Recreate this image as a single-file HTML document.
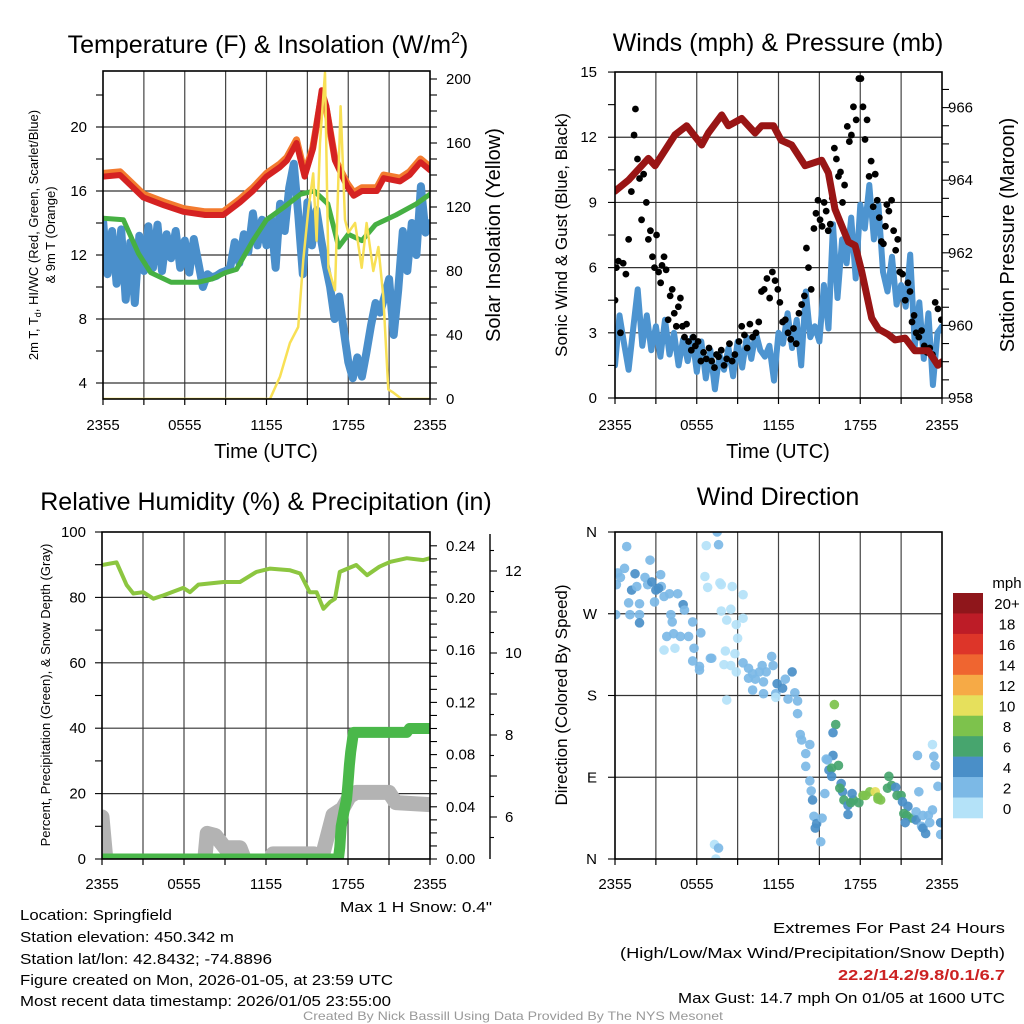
<!DOCTYPE html>
<html><head><meta charset="utf-8">
<style>
html,body{margin:0;padding:0;background:#fff;}
svg{display:block;font-family:"Liberation Sans",Arial,sans-serif;}
</style></head>
<body>
<svg id="fig" width="1024" height="1024" viewBox="0 0 1024 1024" xmlns="http://www.w3.org/2000/svg">
<defs>
<clipPath id="c1"><rect x="103" y="71" width="327" height="328"/></clipPath>
<clipPath id="c2"><rect x="615" y="72" width="327" height="326"/></clipPath>
<clipPath id="c3"><rect x="102" y="532" width="328" height="327"/></clipPath>
<clipPath id="c4"><rect x="615" y="532" width="327" height="327"/></clipPath>
</defs>
<g id="static" font-size="14">
<text x="268" y="53" font-size="25" text-anchor="middle">Temperature (F) &amp; Insolation (W/m<tspan dy="-10" font-size="16">2</tspan><tspan dy="10">)</tspan></text>
<text x="778" y="51" font-size="25" text-anchor="middle">Winds (mph) &amp; Pressure (mb)</text>
<text x="266" y="510" font-size="25" text-anchor="middle">Relative Humidity (%) &amp; Precipitation (in)</text>
<text x="778" y="505" font-size="25" text-anchor="middle">Wind Direction</text>

<text x="266" y="458" font-size="20" text-anchor="middle">Time (UTC)</text>
<text x="778" y="458" font-size="20" text-anchor="middle">Time (UTC)</text>

<g transform="translate(42,235) rotate(-90)" font-size="13" text-anchor="middle">
<text x="0" y="-4">2m T, T<tspan font-size="9" dy="3">d</tspan><tspan dy="-3">, HI/WC (Red, Green, Scarlet/Blue)</tspan></text>
<text x="0" y="13">&amp; 9m T (Orange)</text>
</g>
<text transform="translate(500,235) rotate(-90)" font-size="20" text-anchor="middle">Solar Insolation (Yellow)</text>
<text transform="translate(567,235) rotate(-90)" font-size="17" text-anchor="middle">Sonic Wind &amp; Gust (Blue, Black)</text>
<text transform="translate(1014,235) rotate(-90)" font-size="20" text-anchor="middle">Station Pressure (Maroon)</text>
<text transform="translate(50,695) rotate(-90)" font-size="13" text-anchor="middle">Percent, Precipitation (Green), &amp; Snow Depth (Gray)</text>
<text transform="translate(567,695) rotate(-90)" font-size="17" text-anchor="middle">Direction (Colored By Speed)</text>

<text x="492" y="912" font-size="15" text-anchor="end" textLength="152" lengthAdjust="spacingAndGlyphs">Max 1 H Snow: 0.4"</text>
<g font-size="15">
<text x="20" y="920" textLength="152" lengthAdjust="spacingAndGlyphs">Location: Springfield</text>
<text x="20" y="942" textLength="214" lengthAdjust="spacingAndGlyphs">Station elevation: 450.342 m</text>
<text x="20" y="964" textLength="252" lengthAdjust="spacingAndGlyphs">Station lat/lon: 42.8432; -74.8896</text>
<text x="20" y="985" textLength="373" lengthAdjust="spacingAndGlyphs">Figure created on Mon, 2026-01-05, at 23:59 UTC</text>
<text x="20" y="1006" textLength="371" lengthAdjust="spacingAndGlyphs">Most recent data timestamp: 2026/01/05 23:55:00</text>
</g>
<g font-size="15" text-anchor="end">
<text x="1005" y="933" textLength="232" lengthAdjust="spacingAndGlyphs">Extremes For Past 24 Hours</text>
<text x="1005" y="958" textLength="385" lengthAdjust="spacingAndGlyphs">(High/Low/Max Wind/Precipitation/Snow Depth)</text>
<text x="1005" y="980" fill="#cc2222" font-weight="bold" textLength="167" lengthAdjust="spacingAndGlyphs">22.2/14.2/9.8/0.1/6.7</text>
<text x="1005" y="1003" textLength="327" lengthAdjust="spacingAndGlyphs">Max Gust: 14.7 mph On 01/05 at 1600 UTC</text>
</g>
<text x="513" y="1020" font-size="12" fill="#999" text-anchor="middle" textLength="420" lengthAdjust="spacingAndGlyphs">Created By Nick Bassill Using Data Provided By The NYS Mesonet</text>
</g>
<g id="dyn"></g>
</svg>
<script>
// ---------- Panel 1 data ----------
const tHours = [0,1.25,2.96,4.5,5.9,7.5,8.83,10.06,11,12,13,13.5,14.2,14.8,15.4,16.05,16.4,17.03,17.9,18.4,19,20.1,20.6,21.8,22.5,23.3,24];
const tempRed = [16.9,17.0,15.6,15.1,14.7,14.5,14.5,15.3,16.0,16.9,17.5,17.9,19.0,16.9,18.6,22.3,21.3,17.9,16.3,15.7,16.0,16.0,16.8,16.6,17.0,17.8,17.3];
const tempOrange = [17.1,17.2,15.8,15.3,14.9,14.7,14.7,15.5,16.2,17.1,17.7,18.1,19.2,17.1,18.7,22.0,21.1,18.0,16.5,15.9,16.2,16.2,17.0,16.8,17.2,18.0,17.5];
const tdHours = [0,1.5,2.6,3.5,5,7,8,9,9.8,11,12,13.3,14.5,15.5,16.5,17.3,18,19,20,21.5,23,24];
const tdGreen = [14.3,14.2,12.1,10.9,10.3,10.3,10.5,10.9,11.1,12.9,14.2,15.0,15.8,16.0,15.2,12.5,13.3,12.9,13.9,14.5,15.2,15.8];
const wcBlue = [14.2,10.8,13.5, 10.2,13.6,9.2, 12.8,9.0,13.2, 11.0,13.8,11.2, 13.9,11.0,13.3, 11.8,13.5,11.2, 12.9,10.9,13.0, 11.5,10.0,10.8, 10.6,10.7,10.9, 11.0,11.2,12.8, 11.5,13.3,12.2, 14.6,12.6,14.2, 12.6,14.3,11.2, 15.2,13.5,16.2, 17.7,14.5,10.8, 15.3,12.6,14.8, 13.0,11.4,10.0, 8.0,9.4,7.3, 5.3,4.3,5.6, 4.4,5.9,7.6, 9.0,8.4,9.4, 10.5,7.0,9.8, 13.5,11.0,14.0, 12.0,16.3,13.4, 14.0];
const solarHours = [0,12.26,12.99,13.72,14.33,14.70,15.07,15.43,15.68,15.93,16.29,16.54,17.03,17.44,17.76,18.0,18.5,18.99,19.35,19.84,20.21,20.57,20.94,21.31,21.92,24];
const solar = [0,0,14,35,45,87,118,141,99,160,204,82,68,183,112,104,110,82,110,80,95,64,6,4,0,0];
const p1LeftTicks = [4,8,12,16,20];
const p1RightTicks = [0,40,80,120,160,200];
const timeLabels = ["2355","0555","1155","1755","2355"];

// ---------- Panel 2 data ----------
const presHours = [0,0.98,2.45,2.94,4.4,5.26,6.36,6.85,7.83,8.32,9.3,10.28,10.77,11.63,12.2,12.97,13.95,15.17,15.66,16.15,17.13,17.62,18.1,18.84,19.33,20.06,20.55,21.3,22.0,23.0,23.7,24];
const pres = [963.7,964.0,964.6,964.4,965.25,965.5,964.97,965.3,965.8,965.5,965.7,965.3,965.5,965.5,965.1,964.97,964.4,964.55,964.2,963.2,962.3,962.2,961.5,960.2,959.9,959.75,959.6,959.65,959.3,959.3,958.9,959.0];
const windBlue = [1.5,3.8,2.5, 1.3,3.2,5.0, 2.4,3.8,2.2, 3.3,1.9,3.6, 2.0,3.0,1.5, 2.7,1.7,2.8, 1.2,2.6,0.9, 2.2,0.4,2.0, 1.3,2.3,1.0, 2.6,1.4,2.8, 1.8,3.0,2.2, 1.9,2.4,0.8, 3.0,2.5,3.9, 2.3,3.6,1.5, 4.9,2.8,3.3, 2.6,5.2,3.2, 8.0,4.6,7.3, 6.2,8.3,5.5, 8.9,7.8,9.8, 7.3,8.9,5.8, 4.9,6.5,4.3, 5.2,4.2,6.6, 2.4,4.4,1.8, 3.9,0.6,3.0, 3.3];
const gustHours = [0,0.1,0.25,0.4, 0.6,0.8,1.0,1.2,1.4, 1.5,1.65,1.8,1.95,2.1,2.3,2.45, 2.6,2.75,2.9,3.05,3.2,3.35,3.45, 3.6,3.75,3.9,4.05,4.2,4.35,4.5,4.65,4.8,4.95, 5.1,5.25,5.4,5.6,5.75,5.9, 6.1,6.3,6.5,6.7,6.9,7.1,7.3,7.45, 7.6,7.8,8.0,8.2,8.4,8.6,8.8, 9.1,9.3,9.5,9.7,9.9,10.1,10.35, 10.55,10.75,10.95,11.15,11.35,11.55,11.75,11.95, 12.1,12.3,12.5,12.7,12.9,13.1,13.3,13.5,13.7,13.9, 14.05,14.2,14.4,14.6,14.75,14.9, 15.05,15.2,15.35,15.5,15.65,15.8,15.95, 16.1,16.25,16.4,16.55,16.7,16.85, 17.05,17.2,17.35,17.5,17.7,17.9, 18.05,18.2,18.35,18.5,18.65,18.8,18.95, 19.1,19.25,19.4,19.55,19.7,19.85,19.95, 20.1,20.3,20.45,20.6,20.75,20.9, 21.1,21.3,21.5,21.65,21.8,21.95, 22.1,22.3,22.5,22.7,22.9, 23.1,23.3,23.5,23.7,23.95];
const gustMph = [4.5,6.0,6.3,3.0, 6.2,5.7,7.3,9.5,12.1, 13.3,11.0,10.1,8.2,10.3,9.0,7.3, 7.7,6.5,6.0,7.5,5.8,5.3,6.1, 6.5,5.9,3.6,4.7,5.0,3.9,3.3,4.2,4.6,3.3, 2.8,3.4,2.6,2.2,2.8,2.4, 2.6,1.7,2.1,1.8,2.3,1.7,1.4,2.0, 1.9,2.2,1.5,1.8,2.5,1.7,2.0, 2.6,3.3,2.9,2.3,3.4,2.8,3.0, 3.5,4.9,5.0,5.5,4.6,5.8,5.4,5.0, 4.4,3.5,3.6,3.0,2.7,3.2,2.5,3.9,4.3,4.7, 6.9,6.0,5.0,7.8,8.5,9.1, 8.2,7.9,9.0,8.6,7.7,8.0,9.2, 11.5,11.0,10.2,10.4,9.0,9.8, 12.5,11.8,12.1,13.4,12.8,14.7, 14.7,13.4,11.9,12.8,10.2,10.9,8.8, 10.3,9.1,8.3,7.2,7.1,7.9,8.9, 8.6,9.1,7.7,6.8,7.3,5.8, 5.7,4.5,5.3,4.9,3.5,3.8, 3.0,2.8,3.1,2.4,2.1, 2.3,2.0,4.4,4.1,3.6];
const p2LeftTicks = [0,3,6,9,12,15];
const p2RightTicks = [958,960,962,964,966];

// ---------- Panel 3 data ----------
const rhHours = [0,1.07,1.8,2.29,3.02,3.76,4.49,5.95,6.44,7.05,8.88,10.1,11.3,12.3,13.76,14.5,15.2,15.7,16.2,16.68,17.05,17.4,18.6,19.4,20.3,21.1,22.3,23.5,24];
const rh = [89.9,90.7,83.8,81.2,81.6,79.6,80.6,82.9,81.6,83.9,84.7,84.7,87.8,88.8,88.3,87.3,81.6,81.6,76.5,78.6,79.6,87.8,89.9,86.8,89.4,90.9,92.0,91.4,92.0];
const precipHours = [0,17.3,17.4,17.5,17.7,17.9,18.0,18.1,18.2,18.4,22.3,22.5,24];
const precip = [0,0,0.009,0.025,0.036,0.046,0.058,0.072,0.082,0.097,0.097,0.100,0.100];
const snowHours = [0,0.3,7.5,7.7,8.3,9.0,10.1,10.5,12.3,12.5,15.5,16.0,16.9,17.6,18.1,18.6,21.0,21.5,24];
const snow = [6.0,4.9,4.9,5.6,5.55,5.25,5.25,4.9,4.9,5.1,5.1,4.9,6.05,6.2,6.5,6.6,6.6,6.35,6.3];
const p3LeftTicks = [0,20,40,60,80,100];
const p3PrecipTicks = ["0.00","0.04","0.08","0.12","0.16","0.20","0.24"];
const p3SnowTicks = [6,8,10,12];

// ---------- Panel 4 data ----------
const dirHours = [0.86,0.2,1.47,1.22,0.05,1.1,1.8,1.8,1.0,1.8,0.1,0.7,2.57,2.2,2.4,3.4,3.0,3.6,4.0,4.6,3.35,2.9,5.0,4.1,4.2,4.3,4.8,5.4,3.8,3.6,4.4,5.1,5.7,5.8,6.3,5.7,6.2,6.2,7.0,6.6,6.8,6.7,7.5,7.6,7.7,7.8,8.6,9.4,7.8,8.5,8.2,8.9,9.4,9.0,8.1,8.8,7.1,8.0,8.5,8.9,8.2,9.4,9.8,10.1,10.6,10.8,11.5,11.1,11.6,9.8,10.3,10.9,10.1,10.9,11.8,11.9,12.3,12.5,13.0,13.2,12.7,11.8,13.4,13.4,13.6,13.7,14.0,14.3,14.0,14.3,14.4,14.5,14.6,14.7,14.8,15.1,15.2,15.4,16.1,16.2,16.0,16.0,15.6,15.7,15.9,16.4,15.9,16.6,16.7,16.5,16.8,17.1,17.1,17.3,17.5,17.4,17.9,18.2,18.4,18.7,19.1,19.3,19.5,19.3,20.0,20.3,20.1,20.6,20.7,21.0,21.1,21.5,21.2,21.4,21.8,21.3,22.1,22.1,22.6,23.0,23.3,22.5,22.6,22.8,23.1,23.9,23.9,22.2,23.4,23.5,23.3,23.7,22.3,15.5,7.3,7.6,7.4,0.4,1.6,2.7,3.2];
const dirDeg = [344,315,314,296,269,269,269,260,282,281,302,320,329,310,302,300,296,289,292,292,313,283,280,269,261,248,245,245,245,230,232,274,261,232,249,218,212,208,221,311,299,345,360,346,304,302,300,291,273,275,263,258,265,243,229,226,221,214,213,206,175,216,210,204,206,213,223,206,213,199,198,195,186,182,182,193,188,198,206,183,176,178,174,160,137,131,116,126,102,86,75,65,47,34,39,19,45,72,170,148,139,114,109,98,100,103,91,83,74,78,65,59,49,62,65,72,62,70,70,74,74,68,65,66,78,81,91,79,70,70,63,58,50,48,45,40,52,43,48,48,54,36,34,28,40,40,27,114,113,103,126,80,74,110,16,12,0,310,300,305,298];
const dirSpeed = [3,3,5,5,3,3,3,5,3,3,3,3,3,3,3,3,5,3,3,3,3,3,5,3,3,3,3,3,3,1,1,3,3,3,3,3,3,3,3,1,1,1,3,3,1,1,1,1,1,1,1,1,1,1,1,1,3,1,1,1,1,3,3,3,3,3,3,3,3,3,3,3,3,3,3,5,5,3,5,3,3,1,3,3,3,3,3,3,3,3,3,5,3,5,5,3,3,3,9,7,5,5,3,5,7,7,5,5,5,7,7,5,5,7,7,5,7,9,9,9,11,9,9,9,7,7,7,5,7,7,5,5,7,7,7,5,3,5,3,3,3,3,5,5,3,5,3,3,3,3,1,3,3,3,1,3,1,3,3,5,5];
const p4DirTicks = [[0,"N"],[90,"E"],[180,"S"],[270,"W"],[360,"N"]];
const speedBins = ["0","2","4","6","8","10","12","14","16","18","20+"];
const binColors = ["#b4e2f8","#7cb9e6","#4a8fc8","#47a56e","#7dc24c","#e6e05c","#f6aa46","#ef6530","#dd3529","#bd1c27","#8f161b"];

// ---------- helpers ----------
const NS = "http://www.w3.org/2000/svg";
const dyn = document.getElementById("dyn");
function mk(tag, attrs, parent) {
  const e = document.createElementNS(NS, tag);
  for (const k in attrs) e.setAttribute(k, attrs[k]);
  (parent || dyn).appendChild(e);
  return e;
}
function pathD(xs, ys, fx, fy) {
  return xs.map((h, i) => (i ? "L" : "M") + fx(h).toFixed(1) + "," + fy(ys[i]).toFixed(1)).join("");
}
function evenHours(n) { return Array.from({length: n}, (_, i) => i * 24 / (n - 1)); }

const x1 = h => 103 + h * 327 / 24;
const yT = v => 383 - (v - 4) * 16;
const yS = v => 399 - v * 1.6;
const x2 = h => 615 + h * 327 / 24;
const yW = v => 398 - v * 21.73;
const yP = v => 398 - (v - 958) * 36.3;
const x3 = h => 102 + h * 328 / 24;
const yRH = v => 859 - v * 3.27;
const yPr = v => 859 - v / 0.04 * 52.2;
const ySn = v => 817 - (v - 6) * 41;
const yD = d => 859 - d * 327 / 360;

function grid(g, fx, top, bottom, left, right, yLines) {
  for (let h = 3; h < 24; h += 3) {
    const l = mk("line", {x1: fx(h), x2: fx(h), y1: top, y2: bottom, stroke: "#444", "stroke-width": 1.2}, g);
    
    
  }
  yLines.forEach(y => {
    const l = mk("line", {x1: left, x2: right, y1: y, y2: y, stroke: "#333", "stroke-width": 1.2}, g);
    
    
  });
}
function frame(g, left, top, right, bottom) {
  const r = mk("rect", {x: left, y: top, width: right - left, height: bottom - top, fill: "none", stroke: "#000", "stroke-width": 1.6}, g);
  
  
}
function xAxis(g, fx, bottom, labelY) {
  for (let h = 0; h <= 24; h += 3) {
    mk("line", {x1: fx(h), x2: fx(h), y1: bottom, y2: bottom + 6, stroke: "#000", "stroke-width": 1.2}, g);
  }
  timeLabels.forEach((t, i) => {
    const tx = mk("text", {x: fx(i * 6), y: labelY, "font-size": 15, "text-anchor": "middle"}, g);
    
    
    tx.textContent = t;
  });
}
function ticksV(g, x, ys, len) {
  ys.forEach(y => mk("line", {x1: x, x2: x + len, y1: y, y2: y, stroke: "#000", "stroke-width": 1.1}, g));
}
function label(g, x, y, txt, anchor, name) {
  const t = mk("text", {x: x, y: y + 5, "font-size": 15, "text-anchor": anchor}, g);
  
  
  t.textContent = txt;
}
function series(g, d, color, w, clip, name, cap) {
  const p = mk("path", {d: d, fill: "none", stroke: color, "stroke-width": w, "stroke-linejoin": "round", "stroke-linecap": cap || "round", "clip-path": "url(#" + clip + ")"}, g);
  
  
  return p;
}

// ---------- Panel 1 ----------
const g1 = mk("g", {});


grid(g1, x1, 71, 399, 103, 430, p1LeftTicks.map(yT));
series(g1, pathD(evenHours(wcBlue.length), wcBlue, x1, yT), "#4a8fcb", 8, "c1", "windchill-line");
series(g1, pathD(tdHours, tdGreen, x1, yT), "#46b043", 5, "c1", "dewpoint-line");
series(g1, pathD(tHours, tempOrange, x1, yT), "#f37b2f", 7, "c1", "temp-9m-line");
series(g1, pathD(tHours, tempRed, x1, yT), "#d52222", 6, "c1", "temp-2m-line");
series(g1, pathD(solarHours, solar, x1, yS), "#f8e055", 2.5, "c1", "solar-line");
frame(g1, 103, 71, 430, 399);
xAxis(g1, x1, 399, 430);
for (let v = 4; v <= 22; v += 2) ticksV(g1, 103, [yT(v)], -7);
p1LeftTicks.forEach(v => label(g1, 87, yT(v), String(v), "end", "p1-left-tick-label"));
for (let v = 0; v <= 200; v += 10) ticksV(g1, 430, [yS(v)], 7);
p1RightTicks.forEach(v => label(g1, 446, yS(v), String(v), "start", "p1-right-tick-label"));

// ---------- Panel 2 ----------
const g2 = mk("g", {});


grid(g2, x2, 72, 398, 615, 942, p2LeftTicks.slice(1, 5).map(yW));
series(g2, pathD(evenHours(windBlue.length), windBlue, x2, yW), "#4d94d0", 6, "c2", "sonic-wind-line");
gustHours.forEach((h, i) => {
  const c = mk("circle", {cx: x2(h), cy: yW(gustMph[i]), r: 3.4, fill: "#000", "clip-path": "url(#c2)"}, g2);
  
  
});
series(g2, pathD(presHours, pres, x2, yP), "#991515", 7, "c2", "pressure-line");
frame(g2, 615, 72, 942, 398);
xAxis(g2, x2, 398, 430);
for (let v = 0; v <= 15; v += 1.5) ticksV(g2, 615, [yW(v)], -7);
p2LeftTicks.forEach(v => label(g2, 597, yW(v), String(v), "end", "p2-left-tick-label"));
for (let v = 958; v <= 966.8; v += 0.5) ticksV(g2, 942, [yP(v)], 7);
p2RightTicks.forEach(v => label(g2, 948, yP(v), String(v), "start", "p2-right-tick-label"));

// ---------- Panel 3 ----------
const g3 = mk("g", {});


grid(g3, x3, 532, 859, 102, 430, p3LeftTicks.slice(1, 5).map(yRH));
series(g3, pathD(snowHours, snow, x3, ySn), "#b3b3b3", 15, "c3", "snow-depth-line");
series(g3, pathD(precipHours, precip, x3, yPr), "#4ab84a", 11, "c3", "precipitation-line");
series(g3, pathD(rhHours, rh, x3, yRH), "#8cc640", 4, "c3", "relative-humidity-line");
frame(g3, 102, 532, 430, 859);
xAxis(g3, x3, 859, 889);
for (let v = 0; v <= 100; v += 10) ticksV(g3, 102, [yRH(v)], -7);
p3LeftTicks.forEach(v => label(g3, 86, yRH(v), String(v), "end", "p3-left-tick-label"));
for (let v = 0; v <= 0.245; v += 0.01) ticksV(g3, 430, [yPr(v)], 7);
p3PrecipTicks.forEach(t => label(g3, 446, yPr(parseFloat(t)), t, "start", "p3-precip-tick-label"));
const sAx = mk("line", {x1: 490, x2: 490, y1: 534, y2: 859, stroke: "#000", "stroke-width": 1.4}, g3);


for (let v = 6; v <= 12.8; v += 1) ticksV(g3, 490, [ySn(v)], 7);
for (let v = 5.5; v <= 12.8; v += 1) ticksV(g3, 490, [ySn(v)], 4);
p3SnowTicks.forEach(v => label(g3, 505, ySn(v), String(v), "start", "p3-snow-tick-label"));

// ---------- Panel 4 ----------
const g4 = mk("g", {});


grid(g4, x2, 532, 859, 615, 942, [90, 180, 270].map(yD));
function binOf(s) { return Math.min(10, Math.floor(s / 2)); }
dirHours.forEach((h, i) => {
  const c = mk("circle", {cx: x2(h), cy: yD(dirDeg[i]), r: 4.8, fill: binColors[binOf(dirSpeed[i])], "fill-opacity": 0.92, "clip-path": "url(#c4)"}, g4);
  
  
});
frame(g4, 615, 532, 942, 859);
xAxis(g4, x2, 859, 889);
p4DirTicks.forEach(t => {
  ticksV(g4, 615, [yD(t[0])], -7);
  label(g4, 597, yD(t[0]), t[1], "end", "p4-direction-tick-label");
});
const cb = mk("g", {}, g4);


const cbTop = 593, cbH = 225 / speedBins.length;
speedBins.forEach((s, i) => {
  const idx = speedBins.length - 1 - i;
  const r = mk("rect", {x: 953, y: cbTop + i * cbH, width: 30, height: cbH + 0.3, fill: binColors[idx]}, cb);
  
  
  const t = mk("text", {x: 1007, y: cbTop + i * cbH + cbH / 2 + 6, "font-size": 15, "text-anchor": "middle"}, cb);
  
  
  t.textContent = speedBins[idx];
});
const mph = mk("text", {x: 1007, y: 588, "font-size": 15, "text-anchor": "middle"}, cb);


mph.textContent = "mph";
</script>
</body></html>
